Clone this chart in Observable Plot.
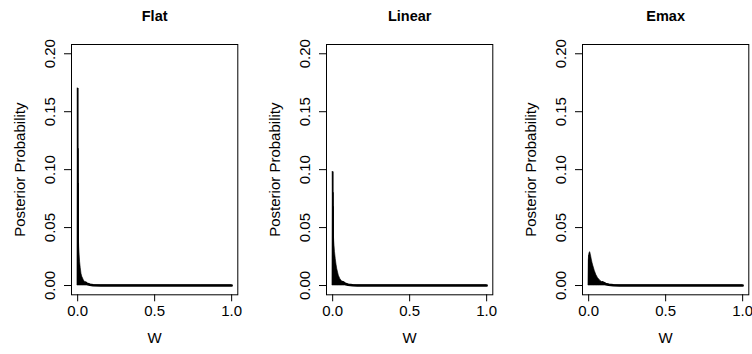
<!DOCTYPE html>
<html>
<head>
<meta charset="utf-8">
<script src="https://cdn.jsdelivr.net/npm/d3@7"></script>
<script src="https://cdn.jsdelivr.net/npm/@observablehq/plot@0.6"></script>
<style>
  html, body { margin: 0; padding: 0; background: #fff; }
  #chart { position: relative; width: 752px; height: 354px; overflow: hidden; }
</style>
</head>
<body>
<div id="chart"></div>
<script>
// ---- data ----
const panelTitles = ["Flat", "Linear", "Emax"];
const xLabel = "W";
const yLabel = "Posterior Probability";
const xTicks = [0, 0.5, 1];
const yTicks = [0, 0.05, 0.10, 0.15, 0.20];

const wFlat = [0.001, 0.002, 0.003, 0.004, 0.006, 0.008, 0.010, 0.013, 0.016, 0.020, 0.025, 0.030, 0.040, 0.050, 0.060, 0.080, 0.100, 0.150, 0.200, 0.400, 0.600, 0.800, 1.000];
const pFlat = [0.170, 0.118, 0.088, 0.070, 0.050, 0.040, 0.033, 0.026, 0.020, 0.015, 0.010, 0.0075, 0.0045, 0.0025, 0.0015, 0.0006, 0.0002, 0.00005, 0, 0, 0, 0, 0];

const wLinear = [0.001, 0.002, 0.003, 0.005, 0.007, 0.010, 0.015, 0.020, 0.025, 0.030, 0.040, 0.050, 0.065, 0.080, 0.100, 0.130, 0.160, 0.200, 0.400, 0.600, 0.800, 1.000];
const pLinear = [0.098, 0.080, 0.068, 0.054, 0.046, 0.038, 0.029, 0.023, 0.018, 0.014, 0.0085, 0.0055, 0.003, 0.0016, 0.0007, 0.0002, 0.00005, 0, 0, 0, 0, 0];

const wEmax = [0.001, 0.003, 0.006, 0.010, 0.015, 0.020, 0.025, 0.030, 0.040, 0.050, 0.060, 0.075, 0.090, 0.110, 0.130, 0.160, 0.200, 0.400, 0.600, 0.800, 1.000];
const pEmax = [0.022, 0.026, 0.0283, 0.0288, 0.026, 0.0225, 0.0195, 0.0170, 0.0125, 0.0090, 0.0066, 0.0042, 0.0027, 0.0014, 0.0007, 0.0002, 0, 0, 0, 0, 0];

const seriesW = [wFlat, wLinear, wEmax];
const seriesP = [pFlat, pLinear, pEmax];

// ---- layout ----
const panelLefts = [0, 255.3, 511];
const FONT = "'Liberation Sans', Arial, Helvetica, sans-serif";
const fs = 15;
const container = document.getElementById("chart");

panelTitles.forEach((title, i) => {
  const data = seriesW[i].map((w, k) => ({W: w, p: seriesP[i][k]}));
  const plot = Plot.plot({
    width: 255,
    height: 354,
    marginLeft: 71,
    marginRight: 17.7,
    marginTop: 44,
    marginBottom: 59.7,
    style: {fontFamily: FONT, fontSize: fs + "px", color: "black", background: "white", overflow: "visible"},
    x: {domain: [-0.04, 1.04]},
    y: {domain: [-0.008, 0.208]},
    marks: [
      Plot.areaY(data, {x: "W", y: "p", fill: "black", stroke: "black", strokeWidth: 0.6, curve: "linear"}),
      Plot.ruleX(data, {filter: d => d.W <= 0.003, x: "W", y1: 0, y2: "p", stroke: "black", strokeWidth: 1.5}),
      Plot.lineY(data, {filter: d => d.p <= 0.003, x: "W", y: "p", stroke: "black", strokeWidth: 2.6, strokeLinecap: "round"}),
      Plot.frame({stroke: "black", strokeWidth: 1}),
      Plot.axisX({ticks: xTicks, tickSize: 7, tickPadding: 4, tickFormat: d3.format(".1f"), label: null, fontSize: fs, stroke: "black", fill: "black"}),
      Plot.axisY({ticks: yTicks, tickSize: 7, tickFormat: () => "", label: null, stroke: "black"}),
      Plot.text(yTicks, {y: d => d, text: d3.format(".2f"), frameAnchor: "left", dx: -21, rotate: -90, textAnchor: "middle", lineAnchor: "middle", fontSize: fs, fill: "black"}),
      Plot.text([title], {frameAnchor: "top", dy: -28, lineAnchor: "middle", textAnchor: "middle", fontWeight: "bold", fontSize: 14.5, fill: "black"}),
      Plot.text([xLabel], {frameAnchor: "bottom", dy: 43.7, lineAnchor: "middle", textAnchor: "middle", fontSize: fs, fill: "black"}),
      Plot.text([yLabel], {frameAnchor: "left", dx: -51, rotate: -90, lineAnchor: "middle", textAnchor: "middle", fontSize: fs, fill: "black"})
    ]
  });
  plot.style.position = "absolute";
  plot.style.left = panelLefts[i] + "px";
  plot.style.top = "0px";
  container.appendChild(plot);
});
</script>
</body>
</html>
